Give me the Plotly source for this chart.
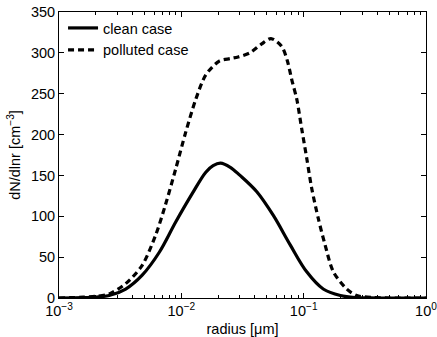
import plotly.graph_objects as go

# log10(radius [um]) and dN/dlnr [cm^-3] values
clean_logr = [-3.0, -2.8, -2.7, -2.59, -2.455, -2.32, -2.18, -2.046, -1.91, -1.80,
              -1.74, -1.68, -1.60, -1.52, -1.383, -1.248, -1.11, -0.975, -0.84,
              -0.70, -0.57, -0.4, 0.0]
clean_vals = [0, 0.5, 1.2, 3, 11, 28, 56, 93, 128, 154,
              162, 165, 160, 150, 130, 101, 65, 32, 11,
              3, 0.5, 0, 0]

polluted_logr = [-3.0, -2.8, -2.7, -2.59, -2.455, -2.32, -2.21, -2.13, -2.046, -1.964,
                 -1.88, -1.80, -1.69, -1.60, -1.536, -1.44, -1.343, -1.267, -1.18,
                 -1.133, -1.097, -1.056, -1.016, -0.975, -0.934, -0.88, -0.825,
                 -0.757, -0.648, -0.566, -0.43, -0.3, 0.0]
polluted_vals = [0, 1, 2, 5, 17.5, 40, 77, 114, 158, 203,
                 244, 273, 290, 293, 295, 300, 311, 317.5, 308,
                 290, 267, 243, 207, 171, 134, 97, 65,
                 32, 11, 3, 0.5, 0, 0]

x_tickvals = [0.001, 0.01, 0.1, 1]
x_ticktext = ["10<sup>−3</sup>", "10<sup>−2</sup>", "10<sup>−1</sup>", "10<sup>0</sup>"]
y_tickvals = [0, 50, 100, 150, 200, 250, 300, 350]

clean_r = [10 ** v for v in clean_logr]
polluted_r = [10 ** v for v in polluted_logr]

font = "Liberation Sans, Arial, Helvetica, sans-serif"

fig = go.Figure()
fig.add_trace(go.Scatter(x=clean_r, y=clean_vals, mode="lines", name="clean case",
                         line=dict(color="black", width=3.2, shape="spline", smoothing=1.0)))
fig.add_trace(go.Scatter(x=polluted_r, y=polluted_vals, mode="lines", name="polluted case",
                         line=dict(color="black", width=3.2, dash="6px,4px", shape="spline", smoothing=0.8)))

axis_common = dict(showline=True, linecolor="black", linewidth=1, mirror="ticks",
                   ticks="inside", tickcolor="black", showgrid=False, zeroline=False,
                   automargin=False, ticklabeloverflow="allow",
                   tickfont=dict(family=font, size=14.5, color="black"))

fig.update_layout(
    width=437, height=337,
    margin=dict(l=59, r=11, t=12, b=39),
    paper_bgcolor="white", plot_bgcolor="white",
    font=dict(family=font, size=14.5, color="black"),
    showlegend=True,
    legend=dict(x=0.011, y=1.0, xanchor="left", yanchor="top",
                bgcolor="rgba(0,0,0,0)", borderwidth=0,
                font=dict(family=font, size=14.5, color="black"),
                tracegroupgap=0, itemwidth=30),
    xaxis=dict(type="log", range=[-3, 0], tickvals=x_tickvals, ticktext=x_ticktext,
               ticklen=5,
               minor=dict(ticks="inside", ticklen=3, tickcolor="black", dtick="D1"),
               title=dict(text="radius [μm]", font=dict(family=font, size=14.5), standoff=6),
               **axis_common),
    yaxis=dict(range=[0, 350], tickvals=y_tickvals, ticklen=5,
               title=dict(text="dN/dlnr [cm<sup>−3</sup>]", font=dict(family=font, size=14.5), standoff=6),
               **axis_common),
)

fig.write_html("out.html")
